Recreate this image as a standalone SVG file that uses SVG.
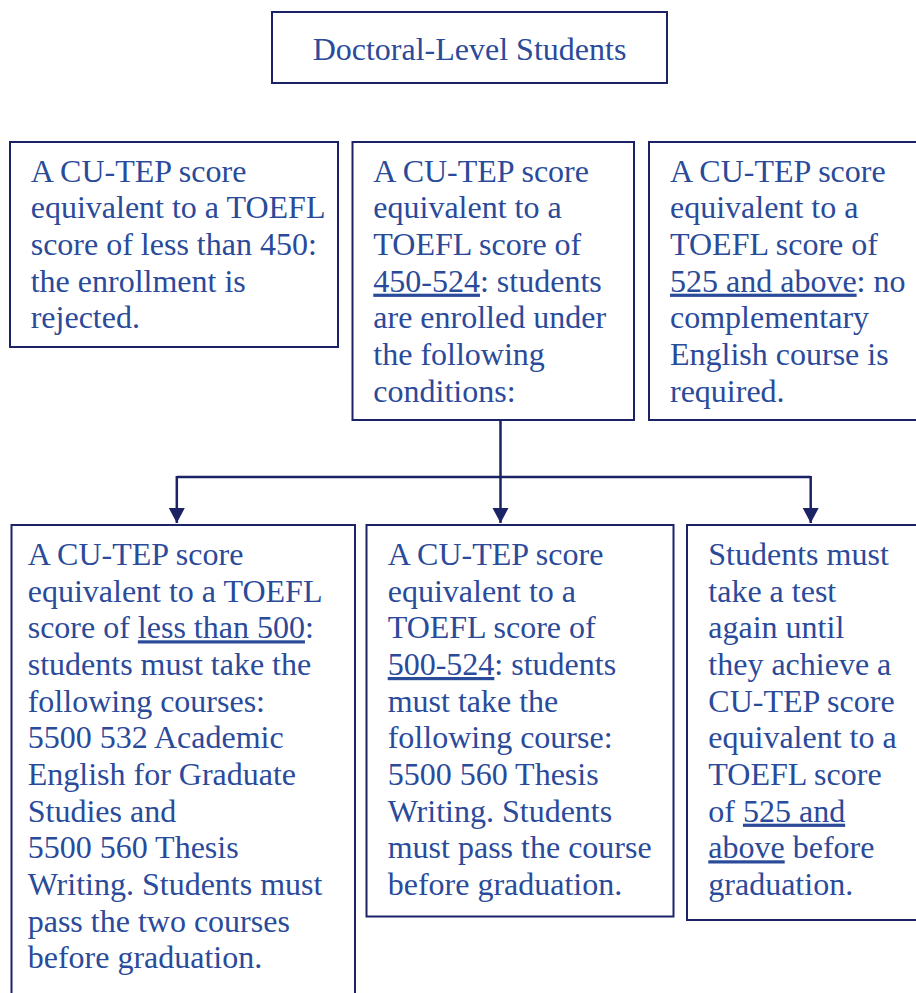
<svg xmlns="http://www.w3.org/2000/svg" width="916" height="993" viewBox="0 0 916 993">
<style>
.box{fill:#fff;stroke:#1b2266;stroke-width:2}
.t{font-family:"Liberation Serif","Times New Roman",serif;font-size:32px;fill:#2a4a9a}
.u{text-decoration:underline}
.con{stroke:#1b2266;stroke-width:2.5;fill:none}
</style>
<defs>
<marker id="arr" markerUnits="userSpaceOnUse" markerWidth="18" markerHeight="18" refX="15" refY="8" orient="auto">
<path d="M0,0 L15,8 L0,16 z" fill="#1b2266"/>
</marker>
</defs>
<rect width="916" height="993" fill="#fff"/>
<g id="connectors">
<line class="con" x1="500.5" y1="420" x2="500.5" y2="523" marker-end="url(#arr)"/>
<line class="con" x1="176.8" y1="477" x2="810.7" y2="477"/>
<line class="con" x1="176.8" y1="476" x2="176.8" y2="523" marker-end="url(#arr)"/>
<line class="con" x1="810.7" y1="476" x2="810.7" y2="523" marker-end="url(#arr)"/>
</g>
<g id="top">
<rect class="box" x="272" y="12" width="395" height="71"/>
<text class="t" x="469.5" y="60" text-anchor="middle">Doctoral-Level Students</text>
</g>
<g id="reject">
<rect class="box" x="10" y="142" width="328" height="205"/>
<text class="t"><tspan x="30.7" y="181.7">A CU-TEP score</tspan><tspan x="30.7" y="218.3">equivalent to a TOEFL</tspan><tspan x="30.7" y="255">score of less than 450:</tspan><tspan x="30.7" y="291.7">the enrollment is</tspan><tspan x="30.7" y="328.3">rejected.</tspan></text>
</g>
<g id="conditional">
<rect class="box" x="352.5" y="142" width="281.5" height="278"/>
<text class="t"><tspan x="373.3" y="181.7">A CU-TEP score</tspan><tspan x="373.3" y="218.3">equivalent to a</tspan><tspan x="373.3" y="255">TOEFL score of</tspan><tspan x="373.3" y="291.7"><tspan class="u">450-524</tspan>: students</tspan><tspan x="373.3" y="328.3">are enrolled under</tspan><tspan x="373.3" y="365">the following</tspan><tspan x="373.3" y="401.7">conditions:</tspan></text>
</g>
<g id="noCourse">
<rect class="box" x="649" y="142" width="290" height="278"/>
<text class="t"><tspan x="670" y="181.7">A CU-TEP score</tspan><tspan x="670" y="218.3">equivalent to a</tspan><tspan x="670" y="255">TOEFL score of</tspan><tspan x="670" y="291.7"><tspan class="u">525 and above</tspan>: no</tspan><tspan x="670" y="328.3">complementary</tspan><tspan x="670" y="365">English course is</tspan><tspan x="670" y="401.7">required.</tspan></text>
</g>
<g id="below500">
<rect class="box" x="11.5" y="525" width="343.5" height="490"/>
<text class="t"><tspan x="27.7" y="565">A CU-TEP score</tspan><tspan x="27.7" y="601.7">equivalent to a TOEFL</tspan><tspan x="27.7" y="638.3">score of <tspan class="u">less than 500</tspan>:</tspan><tspan x="27.7" y="675">students must take the</tspan><tspan x="27.7" y="711.7">following courses:</tspan><tspan x="27.7" y="748.3">5500 532 Academic</tspan><tspan x="27.7" y="785">English for Graduate</tspan><tspan x="27.7" y="821.7">Studies and</tspan><tspan x="27.7" y="858.3">5500 560 Thesis</tspan><tspan x="27.7" y="895">Writing. Students must</tspan><tspan x="27.7" y="931.7">pass the two courses</tspan><tspan x="27.7" y="968.3">before graduation.</tspan></text>
</g>
<g id="from500to524">
<rect class="box" x="366.5" y="525" width="307" height="391.5"/>
<text class="t"><tspan x="387.7" y="565">A CU-TEP score</tspan><tspan x="387.7" y="601.7">equivalent to a</tspan><tspan x="387.7" y="638.3">TOEFL score of</tspan><tspan x="387.7" y="675"><tspan class="u">500-524</tspan>: students</tspan><tspan x="387.7" y="711.7">must take the</tspan><tspan x="387.7" y="748.3">following course:</tspan><tspan x="387.7" y="785">5500 560 Thesis</tspan><tspan x="387.7" y="821.7">Writing. Students</tspan><tspan x="387.7" y="858.3">must pass the course</tspan><tspan x="387.7" y="895">before graduation.</tspan></text>
</g>
<g id="retest">
<rect class="box" x="687" y="525" width="250" height="395"/>
<text class="t"><tspan x="708.3" y="565">Students must</tspan><tspan x="708.3" y="601.7">take a test</tspan><tspan x="708.3" y="638.3">again until</tspan><tspan x="708.3" y="675">they achieve a</tspan><tspan x="708.3" y="711.7">CU-TEP score</tspan><tspan x="708.3" y="748.3">equivalent to a</tspan><tspan x="708.3" y="785">TOEFL score</tspan><tspan x="708.3" y="821.7">of <tspan class="u">525 and</tspan></tspan><tspan x="708.3" y="858.3"><tspan class="u">above</tspan> before</tspan><tspan x="708.3" y="895">graduation.</tspan></text>
</g>
</svg>
